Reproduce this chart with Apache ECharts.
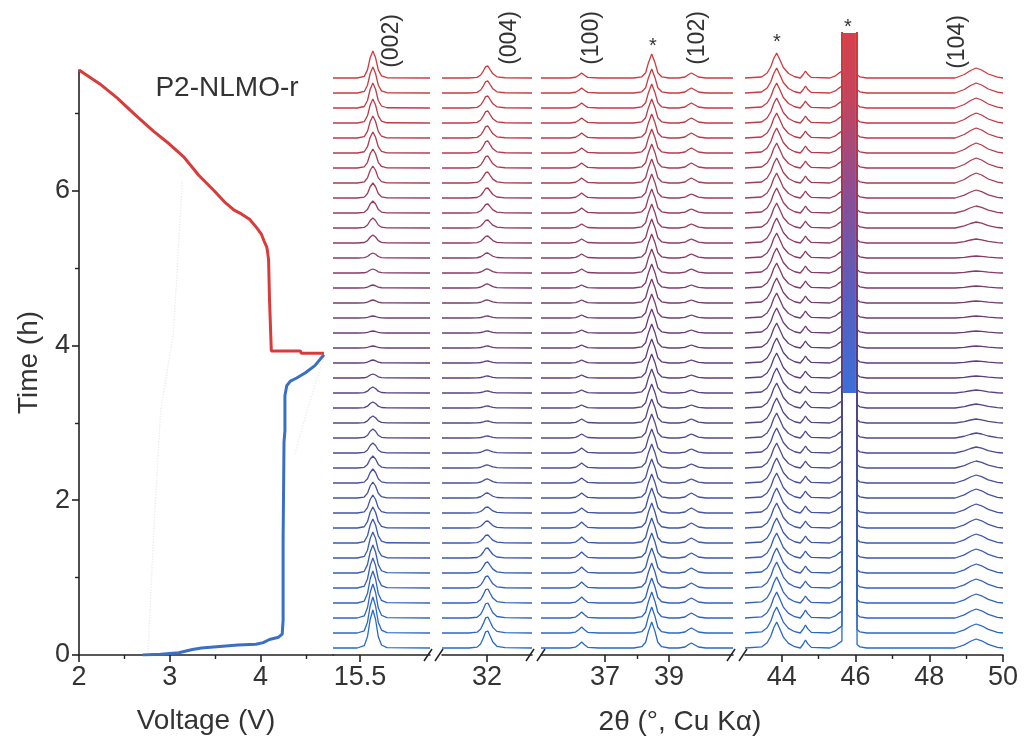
<!DOCTYPE html>
<html>
<head>
<meta charset="utf-8">
<script src="https://cdn.jsdelivr.net/npm/echarts@6/dist/echarts.min.js"></script>
<style>
  html, body { margin: 0; padding: 0; background: #ffffff; }
  #chart { width: 1024px; height: 746px; }
</style>
</head>
<body>
<div id="chart"></div>
<script>
// ---------- Electrochemistry: time (h) versus cell voltage (V) ----------
const chargeCurve = [
  [2.70, 0.00], [2.90, 0.01], [3.10, 0.03], [3.25, 0.07], [3.35, 0.09], [3.55, 0.11],
  [3.75, 0.13], [3.95, 0.14], [4.03, 0.16], [4.10, 0.20], [4.20, 0.23], [4.24, 0.27],
  [4.25, 0.45], [4.25, 1.50], [4.26, 2.75], [4.27, 2.90], [4.27, 3.35], [4.29, 3.48],
  [4.33, 3.54], [4.40, 3.58], [4.50, 3.65], [4.60, 3.74], [4.70, 3.88]
];
const dischargeCurve = [
  [4.70, 3.90], [4.45, 3.90], [4.44, 3.93], [4.12, 3.93], [4.10, 3.95], [4.10, 4.60],
  [4.09, 5.10], [4.08, 5.20], [4.07, 5.27], [4.04, 5.35], [4.01, 5.44], [3.96, 5.52],
  [3.88, 5.63], [3.79, 5.70], [3.71, 5.75], [3.60, 5.86], [3.49, 6.00], [3.32, 6.20],
  [3.16, 6.43], [3.00, 6.60], [2.82, 6.77], [2.62, 6.98], [2.42, 7.20], [2.23, 7.38],
  [2.00, 7.56]
];
const faintCurveA = [[2.76, 0.00], [2.82, 1.50], [2.90, 3.16], [3.04, 4.15], [3.14, 6.13]];
const faintCurveB = [[4.38, 2.60], [4.50, 3.10], [4.62, 3.55], [4.70, 3.85]];

const voltageTicks = [2, 3, 4];
const voltageMinorTicks = [2.5, 3.5, 4.5];
const timeTicks = [0, 2, 4, 6];
const timeMinorTicks = [1, 3, 5, 7];

// ---------- Operando XRD: sampled 2θ positions and peak profiles ----------
const theta002 = [15.0, 15.45, 15.58, 15.64, 15.69, 15.74, 15.79, 15.84, 15.90, 16.0, 16.8];
const shape002 = [0, 0, 0.06, 0.3, 0.75, 1, 0.75, 0.3, 0.08, 0.01, 0];

const theta004 = [31.0, 31.6, 31.78, 31.86, 31.92, 31.97, 32.02, 32.07, 32.13, 32.22, 32.4, 33.0];
const shape004 = [0, 0, 0.05, 0.25, 0.6, 0.95, 1, 0.7, 0.35, 0.1, 0.02, 0];

const theta37 = [35.0, 35.9, 36.08, 36.18, 36.27, 36.36, 36.46, 36.8, 37.9, 38.15, 38.27, 38.36,
  38.46, 38.56, 38.65, 38.77, 39.0, 39.3, 39.5, 39.6, 39.7, 39.8, 39.92, 40.15, 41.0];
const shape100  = [0, 0, 0.15, 0.55, 1, 0.55, 0.12, 0, 0, 0, 0, 0, 0, 0, 0, 0, 0, 0, 0, 0, 0, 0, 0, 0, 0];
const shapeAl38 = [0, 0, 0, 0, 0, 0, 0, 0, 0, 0.05, 0.22, 0.65, 1, 0.65, 0.22, 0.05, 0, 0, 0, 0, 0, 0, 0, 0, 0];
const shape102  = [0, 0, 0, 0, 0, 0, 0, 0, 0, 0, 0, 0, 0, 0, 0, 0, 0, 0, 0.2, 0.65, 1, 0.65, 0.2, 0, 0];

const theta46 = [43.0, 43.45, 43.6, 43.7, 43.78, 43.86, 43.94, 44.04, 44.18, 44.35, 44.5, 44.58,
  44.64, 44.7, 44.8, 45.3, 45.45, 45.55, 45.63, 45.66, 46.01, 46.04, 46.12, 46.3, 48.7, 48.95,
  49.12, 49.27, 49.42, 49.6, 49.85, 50.0];
const shapeAl44 = [0, 0.04, 0.2, 0.45, 0.78, 1, 0.75, 0.42, 0.18, 0.05, 0, 0, 0, 0, 0, 0, 0, 0, 0, 0, 0, 0, 0, 0, 0, 0, 0, 0, 0, 0, 0, 0];
const shape446  = [0, 0, 0, 0, 0, 0, 0, 0, 0, 0, 0, 0.5, 1, 0.55, 0.08, 0, 0, 0, 0, 0, 0, 0, 0, 0, 0, 0, 0, 0, 0, 0, 0, 0];
const shape455  = [0, 0, 0, 0, 0, 0, 0, 0, 0, 0, 0, 0, 0, 0, 0, 0, 0.3, 0.7, 1, 1, 1, 0.5, 0.15, 0, 0, 0, 0, 0, 0, 0, 0, 0];
const shapeSat  = [0, 0, 0, 0, 0, 0, 0, 0, 0, 0, 0, 0, 0, 0, 0, 0, 0, 0, 0, 1, 1, 0, 0, 0, 0, 0, 0, 0, 0, 0, 0, 0];
const shape104  = [0, 0, 0, 0, 0, 0, 0, 0, 0, 0, 0, 0, 0, 0, 0, 0, 0, 0, 0, 0, 0, 0, 0, 0, 0, 0.35, 0.75, 1, 0.8, 0.4, 0.08, 0];

// Peak heights per scan (first scan = start of charge, last = end of discharge)
const h002  = [38, 36, 34, 32, 30, 28, 26, 24, 21, 18, 16, 14, 12, 10, 9, 7, 6, 6, 4, 3, 2, 2, 2, 3, 3, 4, 5, 8, 10, 12, 15, 17, 19, 21, 22, 24, 25, 26, 27];
const h004  = [17, 16, 15, 14, 12, 11, 10, 8, 7, 6, 5, 4, 3, 3, 2, 2, 2, 2, 2, 2, 2, 2, 2, 3, 4, 4, 5, 7, 8, 9, 10, 11, 12, 12, 12, 12, 12, 12, 12];
const h100  = [6, 6, 6, 6, 6, 6, 6, 6, 6, 5, 5, 5, 5, 5, 4, 4, 3, 3, 3, 3, 3, 3, 3, 3, 3, 4, 4, 4, 4, 5, 5, 5, 5, 5, 5, 5, 5, 5, 5];
const hAl38 = [26, 26, 26, 25, 25, 25, 25, 25, 25, 25, 24, 24, 24, 24, 24, 24, 24, 24, 24, 24, 24, 24, 24, 24, 24, 24, 24, 24, 24, 24, 24, 24, 24, 24, 24, 24, 24, 24, 24];
const h102  = [5, 5, 5, 5, 5, 5, 5, 5, 5, 5, 5, 4, 4, 4, 4, 4, 3, 3, 3, 3, 3, 3, 3, 3, 3, 4, 4, 4, 4, 4, 4, 5, 5, 5, 5, 5, 5, 5, 5];
const hAl44 = [26, 26, 26, 26, 26, 25, 25, 25, 25, 25, 25, 25, 25, 25, 25, 25, 25, 25, 25, 25, 25, 25, 25, 25, 25, 25, 25, 25, 25, 25, 25, 25, 25, 25, 25, 25, 25, 25, 25];
const h446  = [8, 8, 8, 7, 7, 7, 7, 7, 7, 7, 7, 7, 7, 7, 7, 7, 7, 7, 7, 7, 7, 7, 7, 7, 7, 7, 7, 7, 7, 7, 7, 7, 7, 7, 7, 7, 7, 7, 7];
const h455  = [7, 7, 7, 7, 7, 7, 7, 7, 7, 7, 7, 7, 7, 7, 7, 7, 7, 7, 7, 7, 7, 7, 7, 7, 7, 7, 7, 7, 7, 7, 7, 7, 7, 7, 7, 7, 7, 7, 7];
const hSat  = [1500, 1500, 1500, 1500, 1500, 1500, 1500, 1500, 1500, 1500, 1500, 1500, 1500, 1500, 1500, 1500, 1500, 1500, 1500, 1500, 1500, 1500, 1500, 1500, 1500, 1500, 1500, 1500, 1500, 1500, 1500, 1500, 1500, 1500, 1500, 1500, 1500, 1500, 1500];
const h104  = [9, 9, 9, 9, 9, 9, 9, 9, 9, 9, 9, 8, 7, 6, 5, 4, 4, 3, 2, 2, 2, 2, 2, 2, 2, 2, 2, 4, 6, 7, 8, 10, 10, 10, 10, 10, 10, 10, 10];

const thetaTicks = [[15.5], [32], [37, 39], [44, 46, 48, 50]];
const thetaMinorTicks = [[], [], [38], [45, 47, 49]];
const thetaRanges = [[15, 16.8], [31, 33], [35, 41], [43, 50]];

// ---------- layout / style constants ----------
const FONT = '"Liberation Sans", Arial, sans-serif';
const INK = '#222222';
const TXT = '#333333';
const STACK_BASE = 7;      // offset of the first scan above the axis
const STACK_STEP = 15;     // offset between consecutive scans
const STACK_MAX = 622;     // visible intensity range of the stack
const FILL_FROM_SCAN = 17; // saturated reflection shown solid above this scan

const scanCount = h002.length;
const baseOf = i => STACK_BASE + STACK_STEP * i;

// blue (start) -> purple -> red (end)
const colorStops = [[0, [40, 105, 200]], [0.5, [95, 60, 122]], [1, [208, 58, 62]]];
function scanColor(i) {
  const t = i / (scanCount - 1);
  for (let k = 1; k < colorStops.length; k++) {
    if (t <= colorStops[k][0]) {
      const [t0, c0] = colorStops[k - 1], [t1, c1] = colorStops[k];
      const f = (t - t0) / (t1 - t0);
      const c = c0.map((v, m) => Math.round(v + (c1[m] - v) * f));
      return `rgb(${c[0]},${c[1]},${c[2]})`;
    }
  }
  return 'rgb(208,58,62)';
}

const windows = [
  { theta: theta002, peaks: [[h002, shape002]] },
  { theta: theta004, peaks: [[h004, shape004]] },
  { theta: theta37, peaks: [[h100, shape100], [hAl38, shapeAl38], [h102, shape102]] },
  { theta: theta46, peaks: [[hAl44, shapeAl44], [h446, shape446], [h455, shape455], [hSat, shapeSat], [h104, shape104]] }
];

// ---------- grids ----------
const gridBoxes = [
  { left: 79, top: 70, width: 254, height: 585 },
  { left: 333, top: 33, width: 97, height: 622 },
  { left: 442, top: 33, width: 90, height: 622 },
  { left: 541, top: 33, width: 192, height: 622 },
  { left: 745, top: 33, width: 258, height: 622 }
];
const grid = gridBoxes.map(g => Object.assign({ outerBoundsMode: 'none', containLabel: false }, g));

const labelStyle = { color: TXT, fontSize: 27, fontFamily: FONT, margin: 9 };

function mainX(gridIndex, range, ticks, extra) {
  return Object.assign({
    type: 'value', gridIndex, position: 'bottom', min: range[0], max: range[1],
    axisLine: { show: true, onZero: false, lineStyle: { color: INK, width: 1.6 } },
    axisTick: { show: true, inside: false, length: 7, customValues: ticks, lineStyle: { color: INK, width: 1.6 } },
    axisLabel: Object.assign({ show: true, customValues: ticks }, labelStyle),
    splitLine: { show: false }
  }, extra || {});
}
function minorX(gridIndex, range, ticks) {
  return {
    type: 'value', gridIndex, position: 'bottom', min: range[0], max: range[1],
    axisLine: { show: false, onZero: false },
    axisTick: { show: ticks.length > 0, inside: false, length: 4, customValues: ticks.length ? ticks : [range[0]], lineStyle: { color: INK, width: 1.4 } },
    axisLabel: { show: false }, splitLine: { show: false }
  };
}

const xAxis = [
  mainX(0, [2, 4.8], voltageTicks, {
    name: 'Voltage (V)', nameLocation: 'middle', nameGap: 52,
    nameTextStyle: { color: TXT, fontSize: 28, fontFamily: FONT }
  }),
  minorX(0, [2, 4.8], voltageMinorTicks)
];
const segXIndex = [];
thetaRanges.forEach((r, k) => {
  segXIndex.push(xAxis.length);
  xAxis.push(mainX(k + 1, r, thetaTicks[k]));
  if (thetaMinorTicks[k].length) xAxis.push(minorX(k + 1, r, thetaMinorTicks[k]));
});

const yAxis = [
  {
    type: 'value', gridIndex: 0, position: 'left', min: 0, max: 7.56,
    name: 'Time (h)', nameLocation: 'middle', nameGap: 36, nameRotate: 90,
    nameTextStyle: { color: TXT, fontSize: 28, fontFamily: FONT },
    axisLine: { show: true, onZero: false, lineStyle: { color: INK, width: 1.6 } },
    axisTick: { show: true, inside: false, length: 7, customValues: timeTicks, lineStyle: { color: INK, width: 1.6 } },
    axisLabel: Object.assign({ show: true, customValues: timeTicks }, labelStyle),
    splitLine: { show: false }
  },
  {
    type: 'value', gridIndex: 0, position: 'left', min: 0, max: 7.56,
    axisLine: { show: false, onZero: false },
    axisTick: { show: true, inside: false, length: 4, customValues: timeMinorTicks, lineStyle: { color: INK, width: 1.4 } },
    axisLabel: { show: false }, splitLine: { show: false }
  }
];
const segYIndex = [];
thetaRanges.forEach((r, k) => {
  segYIndex.push(yAxis.length);
  yAxis.push({ type: 'value', gridIndex: k + 1, min: 0, max: STACK_MAX, show: false });
});

// ---------- series ----------
const series = [
  { type: 'line', xAxisIndex: 0, yAxisIndex: 0, data: faintCurveA, symbol: 'none',
    lineStyle: { color: '#ececec', width: 1.4, type: 'dotted' }, z: 1 },
  { type: 'line', xAxisIndex: 0, yAxisIndex: 0, data: faintCurveB, symbol: 'none',
    lineStyle: { color: '#eeeeee', width: 1.4, type: 'dotted' }, z: 1 },
  { type: 'line', xAxisIndex: 0, yAxisIndex: 0, data: chargeCurve, symbol: 'none',
    lineStyle: { color: '#3a6fc6', width: 3 }, z: 3 },
  { type: 'line', xAxisIndex: 0, yAxisIndex: 0, data: dischargeCurve, symbol: 'none',
    lineStyle: { color: '#d83c3a', width: 3 }, z: 3 }
];

for (let i = 0; i < scanCount; i++) {
  const color = scanColor(i);
  windows.forEach((w, k) => {
    const data = w.theta.map((t, j) => {
      let y = baseOf(i);
      w.peaks.forEach(([h, shape]) => { y += h[i] * shape[j]; });
      return [t, y];
    });
    series.push({
      type: 'line', xAxisIndex: segXIndex[k], yAxisIndex: segYIndex[k], data,
      symbol: 'none', clip: true, lineStyle: { color, width: 1.3 }, z: 2
    });
  });
}

// saturated reflection near 46°: solid band above the middle of the stack
const satIdx = shapeSat.indexOf(1);
series.push({
  type: 'custom', xAxisIndex: segXIndex[3], yAxisIndex: segYIndex[3], clip: true, z: 4,
  data: [[theta46[satIdx], theta46[satIdx + 1], baseOf(FILL_FROM_SCAN), STACK_MAX]],
  renderItem: (params, api) => {
    const p0 = api.coord([api.value(0), api.value(3)]);
    const p1 = api.coord([api.value(1), api.value(2)]);
    return {
      type: 'rect',
      shape: { x: p0[0], y: p0[1], width: p1[0] - p0[0], height: p1[1] - p0[1] },
      style: {
        fill: { type: 'linear', x: 0, y: 0, x2: 0, y2: 1, colorStops: [
          { offset: 0, color: '#d6404a' }, { offset: 0.18, color: '#c4455c' },
          { offset: 0.45, color: '#8a4e96' }, { offset: 0.75, color: '#5560c2' },
          { offset: 1, color: '#3b6fd8' }] }
      }
    };
  }
});

// ---------- annotations ----------
const txt = (text, x, y, size, rot) => ({
  type: 'text', x, y, rotation: rot ? Math.PI / 2 : 0, z: 10,
  style: { text, fill: TXT, font: `${size}px ${FONT}`, textAlign: 'center', textVerticalAlign: 'middle' }
});
const slash = (x) => ({
  type: 'line', z: 10,
  shape: { x1: x - 4, y1: 661, x2: x + 4, y2: 649 },
  style: { stroke: INK, lineWidth: 1.5 }
});

const graphic = [
  txt('P2-NLMO-r', 227, 88, 28, false),
  txt('2θ (°, Cu Kα)', 680, 722, 28, false),
  txt('(002)', 392, 41, 23, true),
  txt('(004)', 510, 38, 23, true),
  txt('(100)', 592, 38, 23, true),
  txt('(102)', 698, 38, 23, true),
  txt('(104)', 958, 42, 23, true),
  txt('*', 653, 46, 20, false),
  txt('*', 777, 42, 20, false),
  txt('*', 848, 27, 20, false),
  slash(428), slash(439), slash(530), slash(541), slash(731), slash(743)
];

const chart = echarts.init(document.getElementById('chart'), null, { renderer: 'canvas' });
chart.setOption({
  animation: false,
  backgroundColor: '#ffffff',
  grid, xAxis, yAxis, series, graphic
});
</script>
</body>
</html>
